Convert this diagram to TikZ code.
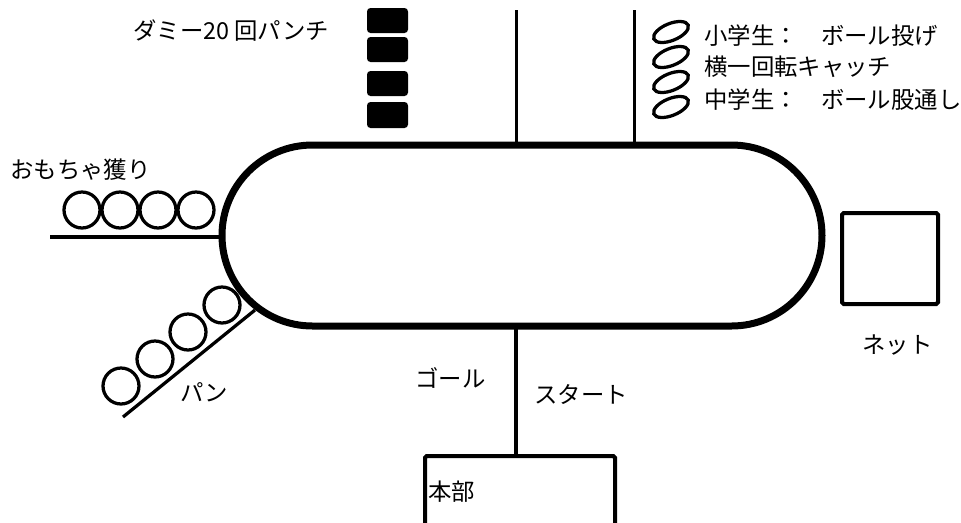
\documentclass[tikz,border=0pt]{standalone}
\usepackage{fontspec}
\setmainfont{Noto Sans CJK JP}
\usepackage{tikz}
\usetikzlibrary{calc}

\begin{document}
\begin{tikzpicture}[x=0.02cm,y=-0.02cm,
  every node/.style={inner sep=0pt,anchor=west,font=\fontsize{13.3pt}{15pt}\selectfont}]

\clip (0,0) rectangle (961,522);
\fill[white] (0,0) rectangle (961,522);

% track
\draw[line width=0.14cm, rounded corners=1.81cm] (222,145) rectangle (822,326);

% start / goal
\draw[line width=0.08cm] (516,326) -- (516,456);
\draw[line width=0.08cm, rounded corners=1pt] (425,530) -- (425,456) -- (615,456) -- (615,530);
\node (honbu) at (428,492) {本部};
\node (goal) at (415,378) {ゴール};
\node (start) at (534,394) {スタート};

% top lines
\draw[line width=0.06cm] (516,10) -- (516,145);
\draw[line width=0.06cm] (634,10) -- (634,145);

% balls
\draw[line width=0.065cm, rotate around={22:(671,32)}] (671,32) ellipse (0.37cm and 0.17cm);
\draw[line width=0.065cm, rotate around={22:(671,57)}] (671,57) ellipse (0.37cm and 0.17cm);
\draw[line width=0.065cm, rotate around={22:(671,82)}] (671,82) ellipse (0.37cm and 0.17cm);
\draw[line width=0.065cm, rotate around={22:(671,107)}] (671,107) ellipse (0.37cm and 0.17cm);
\node (ball1) at (704,36) {小学生：　ボール投げ};
\node (ball2) at (704,67) {横一回転キャッチ};
\node (ball3) at (704,100) {中学生：　ボール股通し};

% dummy
\fill[rounded corners=2pt] (367,8) rectangle (408,33);
\fill[rounded corners=2pt] (367,37) rectangle (408,62);
\fill[rounded corners=2pt] (367,71) rectangle (408,96);
\fill[rounded corners=2pt] (367,102) rectangle (408,128);
\node (dummy) at (133,31) {ダミー20 回パンチ};

% toys
\draw[line width=0.065cm] (50,237) -- (222,237);
\draw[line width=0.065cm] (82,210) circle(0.36cm);
\draw[line width=0.065cm] (120,210) circle(0.36cm);
\draw[line width=0.065cm] (158,210) circle(0.36cm);
\draw[line width=0.065cm] (196,210) circle(0.36cm);
\node (toys) at (10,170) {おもちゃ獲り};

% bread
\draw[line width=0.065cm] (123,417) -- (255,310);
\draw[line width=0.065cm] (121,386) circle(0.36cm);
\draw[line width=0.065cm] (155,359) circle(0.36cm);
\draw[line width=0.065cm] (188,332) circle(0.36cm);
\draw[line width=0.065cm] (222,305) circle(0.36cm);
\node (pan) at (180,392) {パン};

% net
\draw[line width=0.08cm, rounded corners=1pt] (842,213) rectangle (938,304);
\node (net) at (862,345) {ネット};

\end{tikzpicture}
\end{document}
